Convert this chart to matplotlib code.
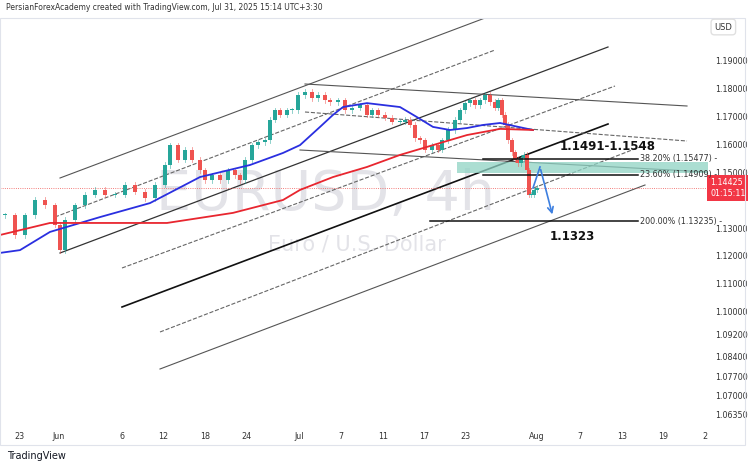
import matplotlib
matplotlib.use("Agg")
import matplotlib.pyplot as plt
from matplotlib.patches import Rectangle

# ── data ─────────────────────────────────────────────────────────────────────
bar_t = [5, 15, 25, 35, 45, 55, 60, 65, 75, 85, 95, 105, 115, 125, 135, 145, 155, 165, 170,
         178, 185, 192, 200, 205, 212, 220, 228, 235, 240, 245, 252, 258, 265, 270, 275, 280,
         287, 292, 298, 305, 312, 318, 325, 330, 338, 345, 352, 360, 367, 372, 378, 385, 392,
         400, 405, 410, 415, 420, 425, 432, 438, 442, 448, 455, 460, 465, 470, 475, 480, 485,
         490, 495, 498, 502, 505, 508, 512, 515, 518, 521, 524, 527, 529, 531, 534, 537]
closes = [1.1346, 1.1275, 1.1346, 1.1400, 1.1382, 1.1311, 1.1221, 1.1329, 1.1382, 1.1418,
          1.1436, 1.1418, 1.1418, 1.1454, 1.1429, 1.1407, 1.1454, 1.1525, 1.1596,
          1.1543, 1.1579, 1.1543, 1.1507, 1.1471, 1.1489, 1.1471, 1.1507, 1.1489, 1.1471,
          1.1543, 1.1596, 1.1607, 1.1614, 1.1686, 1.1721, 1.1704, 1.1721, 1.1721, 1.1775,
          1.1786, 1.1764, 1.1775, 1.1757, 1.1750, 1.1757, 1.1721, 1.1729, 1.1739, 1.1704,
          1.1721, 1.1704, 1.1693, 1.1679, 1.1679, 1.1686, 1.1668, 1.1621, 1.1614, 1.1579,
          1.1596, 1.1579, 1.1614, 1.1650, 1.1686, 1.1721, 1.1746, 1.1757, 1.1739, 1.1757,
          1.1775, 1.1750, 1.1729, 1.1757, 1.1704, 1.1668, 1.1614, 1.1571, 1.1543, 1.1532,
          1.1550, 1.1561, 1.1507, 1.1418, 1.1418, 1.1436, 1.1443]

ma50_t = [0, 20, 50, 100, 150, 200, 250, 283, 300, 320, 333, 343, 367, 400, 417, 433, 450,
          467, 483, 500, 533]
ma50 = [1.1211, 1.1221, 1.1286, 1.1339, 1.1389, 1.1482, 1.1525, 1.1568, 1.1596, 1.1661,
        1.1704, 1.1732, 1.1746, 1.1732, 1.1696, 1.1661, 1.1650, 1.1657, 1.1668, 1.1675, 1.1650]
ma200_t = [0, 50, 100, 167, 233, 283, 300, 333, 367, 400, 433, 467, 500, 533]
ma200 = [1.1275, 1.1318, 1.1318, 1.1318, 1.1354, 1.1400, 1.1436, 1.1482, 1.1518, 1.1561,
         1.1596, 1.1632, 1.1654, 1.1650]

date_pos = [19, 59, 122, 163, 205, 246, 299, 341, 383, 424, 465, 537, 580, 622, 663, 705]
date_lbl = ["23", "Jun", "6", "12", "18", "24", "Jul", "7", "11", "17", "23", "Aug", "7", "13", "19", "2"]
price_ticks = [1.19, 1.18, 1.17, 1.16, 1.15, 1.13, 1.12, 1.11, 1.10, 1.092, 1.084, 1.077, 1.07, 1.0635]

fib_lvls = [1.15477, 1.14909, 1.13235]
fib_lbls = ["38.20% (1.15477)", "23.60% (1.14909)", "200.00% (1.13235)"]
fib_start = [483, 483, 430]
last_price = 1.14425
zone_lo, zone_hi = 1.1497, 1.1536
path_t = [533, 540, 553]
path_p = [1.1443, 1.1518, 1.1339]

def px_price(y):
    return 1.15 + (172 - y) / 2800

# drawings in screen-ish units: (t0, y0, t1, y1, color, width, style)
drawings = [
    (60, 178, 485, 18, "#555555", 0.8, "-"),
    (55, 217, 495, 50, "#666666", 0.8, "--"),
    (60, 253, 608, 47, "#333333", 0.9, "-"),
    (122, 268, 615, 86, "#666666", 0.8, "--"),
    (122, 307, 608, 124, "#111111", 1.2, "-"),
    (160, 332, 645, 145, "#666666", 0.8, "--"),
    (160, 369, 645, 185, "#555555", 0.8, "-"),
    (305, 84, 687, 106, "#555555", 0.8, "-"),
    (300, 150, 708, 172, "#555555", 0.8, "-"),
    (305, 112, 687, 141, "#666666", 0.8, "--"),
]

# ── figure ───────────────────────────────────────────────────────────────────
fig = plt.figure(figsize=(7.52, 4.66), dpi=100)
fig.patches.append(Rectangle((0, 1 - 445 / 466), 745 / 752, 427 / 466, transform=fig.transFigure,
                             fill=False, ec="#e0e3eb", lw=0.8))
ax = fig.add_axes([0.0, 1 - 428 / 466, 708 / 752, 410 / 466])
ax.set_xlim(0, 708)
ax.set_ylim(px_price(428), px_price(18))

# watermark
ax.text(325, px_price(195), "EURUSD, 4h", fontsize=40, color="#e3e3e8", ha="center", va="center", zorder=0)
ax.text(357, px_price(245), "Euro / U.S. Dollar", fontsize=15, color="#e3e3e8", ha="center", va="center", zorder=0)

for t0, y0, t1, y1, c, w, s in drawings:
    ax.plot([t0, t1], [px_price(y0), px_price(y1)], color=c, lw=w, ls=s, zorder=1)

ax.add_patch(Rectangle((457, zone_lo), 251, zone_hi - zone_lo, color="#8fd3c4", alpha=0.75, lw=0, zorder=1))

# candles
prev = closes[0]
for t, c in zip(bar_t, closes):
    col = "#26a69a" if c >= prev else "#ef5350"
    lo, hi = min(prev, c), max(prev, c)
    ax.plot([t, t], [lo - 0.0009, hi + 0.0009], color=col, lw=0.6, alpha=0.6, zorder=2)
    ax.add_patch(Rectangle((t - 1.8, lo), 3.6, max(hi - lo, 0.0003), color=col, lw=0, zorder=3))
    prev = c

ax.plot(ma50_t, ma50, color="#2a2fe0", lw=1.3, zorder=4)
ax.plot(ma200_t, ma200, color="#e8262f", lw=1.3, zorder=4)

# fib levels
for lv, lb, t0 in zip(fib_lvls, fib_lbls, fib_start):
    ax.plot([t0, 638], [lv, lv], color="#111111", lw=1.1, zorder=5)
    ax.text(640, lv, lb + " -", fontsize=5.8, color="#333333", va="center", ha="left", zorder=6)

# projected path
ax.plot(path_t[:2], path_p[:2], color="#3d7fe0", lw=1.2, zorder=6)
ax.annotate("", xy=(path_t[2], path_p[2]), xytext=(path_t[1], path_p[1]),
            arrowprops=dict(arrowstyle="->", color="#3d7fe0", lw=1.2), zorder=6)

ax.text(560, px_price(147), "1.1491-1.1548", fontsize=8.5, fontweight="bold", color="#111111", va="center")
ax.text(550, px_price(236), "1.1323", fontsize=8.5, fontweight="bold", color="#111111", va="center")

ax.axhline(last_price, color="#ef5350", lw=0.6, ls=":", zorder=1)

# axes styling
ax.set_xticks(date_pos)
ax.set_xticklabels(date_lbl)
ax.yaxis.tick_right()
ax.set_yticks(price_ticks)
ax.set_yticklabels(["%.5f" % v for v in price_ticks])
ax.tick_params(length=0, labelsize=5.8, colors="#333333", pad=5)
ax.tick_params(axis="x", pad=3)
for s in ax.spines.values():
    s.set_visible(False)

ax.text(1.003, last_price, "1.14425\n01:15:11", transform=ax.get_yaxis_transform(), fontsize=5.8,
        color="white", va="center", ha="left", linespacing=1.3,
        bbox=dict(boxstyle="square,pad=0.35", fc="#f23645", ec="none"))

fig.text(0.008, 1 - 8 / 466, "PersianForexAcademy created with TradingView.com, Jul 31, 2025 15:14 UTC+3:30",
         fontsize=5.5, color="#333333", va="center")
fig.text(0.95, 1 - 27 / 466, "USD", fontsize=6, color="#333333", va="center",
         bbox=dict(boxstyle="round,pad=0.4", fc="white", ec="#e0e0e0"))
fig.text(0.01, 1 - 456 / 466, "TradingView", fontsize=7, color="#131722", va="center")

fig.savefig("out.png", dpi=100)
